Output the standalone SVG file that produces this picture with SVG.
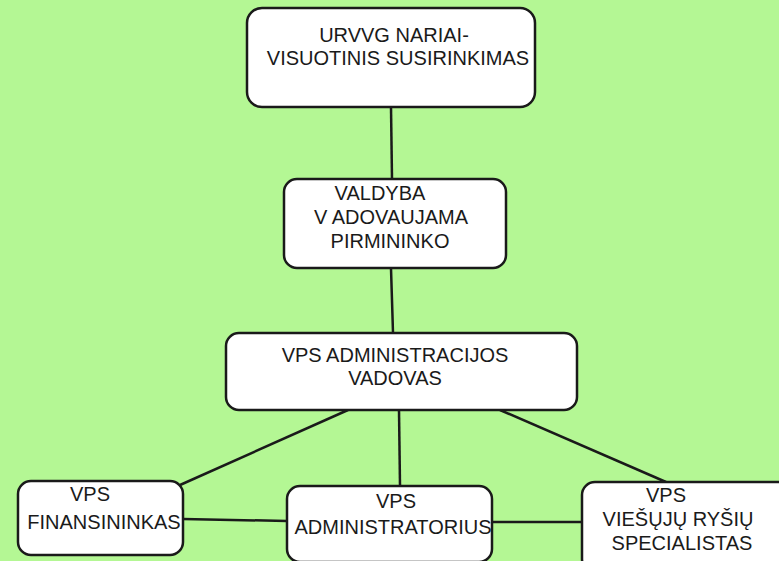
<svg xmlns="http://www.w3.org/2000/svg" width="779" height="561" viewBox="0 0 779 561">
<style>
.box{fill:#ffffff;stroke:#1a1a1a;stroke-width:2.5}
.t{font-family:"Liberation Sans",Arial,sans-serif;font-size:20px;fill:#1a1a1a;text-anchor:middle}
.c{stroke:#1a1a1a;stroke-width:2.5;fill:none}
</style>
<rect width="779" height="561" fill="#b4f794"/>
<g id="connectors">
<line class="c" x1="391" y1="107" x2="392" y2="179"/>
<line class="c" x1="391" y1="268" x2="393" y2="333"/>
<line class="c" x1="348" y1="410" x2="180" y2="485"/>
<line class="c" x1="399" y1="410" x2="400" y2="486"/>
<line class="c" x1="500" y1="410" x2="666" y2="482"/>
<line class="c" x1="183" y1="519" x2="287" y2="521"/>
<line class="c" x1="492" y1="522" x2="582" y2="522"/>
</g>
<g id="n1">
<rect class="box" x="247" y="8" width="288" height="99" rx="15"/>
<text class="t" x="394" y="42">URVVG NARIAI-</text>
<text class="t" x="398" y="65">VISUOTINIS SUSIRINKIMAS</text>
</g>
<g id="n2">
<rect class="box" x="284" y="179" width="222" height="89" rx="13"/>
<text class="t" x="380" y="200">VALDYBA</text>
<text class="t" x="391" y="224">V ADOVAUJAMA</text>
<text class="t" x="390" y="248">PIRMININKO</text>
</g>
<g id="n3">
<rect class="box" x="226" y="333" width="351" height="77" rx="13"/>
<text class="t" x="395" y="362">VPS ADMINISTRACIJOS</text>
<text class="t" x="395" y="385">VADOVAS</text>
</g>
<g id="n4">
<rect class="box" x="18" y="481" width="165" height="74" rx="13"/>
<text class="t" x="90" y="501">VPS</text>
<text class="t" x="104" y="529">FINANSININKAS</text>
</g>
<g id="n5">
<rect class="box" x="287" y="486" width="205" height="76" rx="13"/>
<text class="t" x="396" y="508">VPS</text>
<text class="t" x="393" y="534">ADMINISTRATORIUS</text>
</g>
<g id="n6">
<rect class="box" x="582" y="482" width="210" height="90" rx="13"/>
<text class="t" x="666" y="502">VPS</text>
<text class="t" x="678" y="526">VIEŠŲJŲ RYŠIŲ</text>
<text class="t" x="682" y="550">SPECIALISTAS</text>
</g>
</svg>
